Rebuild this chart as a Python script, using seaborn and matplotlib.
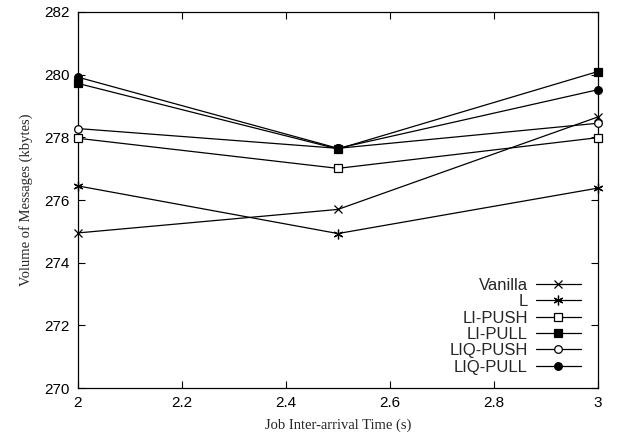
"""Volume of messages vs job inter-arrival time, gnuplot-style line chart."""

import matplotlib

matplotlib.use("Agg")
import matplotlib.pyplot as plt
import pandas as pd
import seaborn as sns

INTER_ARRIVAL = [2.0, 2.5, 3.0]
VANILLA = [274.95, 275.70, 278.65]
L = [276.45, 274.93, 276.38]
LI_PUSH = [277.97, 277.01, 277.99]
LI_PULL = [279.72, 277.63, 280.10]
LIQ_PUSH = [278.28, 277.65, 278.45]
LIQ_PULL = [279.92, 277.65, 279.52]

SERIES = {
    "Vanilla": VANILLA,
    "L": L,
    "LI-PUSH": LI_PUSH,
    "LI-PULL": LI_PULL,
    "LIQ-PUSH": LIQ_PUSH,
    "LIQ-PULL": LIQ_PULL,
}
# marker, face colour, size
MARKERS = {
    "Vanilla": ("x", "black", 6),
    "L": ((6, 2, 0), "black", 7),
    "LI-PUSH": ("s", "white", 5.5),
    "LI-PULL": ("s", "black", 5.5),
    "LIQ-PUSH": ("o", "white", 5.5),
    "LIQ-PULL": ("o", "black", 5.5),
}


def main() -> None:
    sns.set_theme(style="ticks")
    plt.rcParams["font.family"] = ["Liberation Sans", "DejaVu Sans"]
    plt.rcParams["xtick.direction"] = "in"
    plt.rcParams["ytick.direction"] = "in"

    rows = []
    for name, values in SERIES.items():
        for x, y in zip(INTER_ARRIVAL, values):
            rows.append({"series": name, "time": x, "volume": y})
    df = pd.DataFrame(rows)

    fig = plt.figure(figsize=(6.34, 4.44), dpi=100)
    ax = fig.add_axes([0.123, 0.126, 0.820, 0.847])

    for name in SERIES:
        marker, face, size = MARKERS[name]
        sns.lineplot(
            data=df[df["series"] == name],
            x="time",
            y="volume",
            color="black",
            linewidth=0.9,
            marker=marker,
            markersize=size,
            markerfacecolor=face,
            markeredgecolor="black",
            markeredgewidth=0.9,
            label=name,
            ax=ax,
            clip_on=False,
            zorder=3,
        )

    ax.set_xlim(2, 3)
    ax.set_ylim(270, 282)
    ax.set_xticks([2, 2.2, 2.4, 2.6, 2.8, 3])
    ax.set_xticklabels(["2", "2.2", "2.4", "2.6", "2.8", "3"])
    ax.set_yticks(range(270, 283, 2))
    ax.tick_params(axis="both", which="both", top=True, right=True, length=5,
                   width=0.8, labelsize=11, pad=6, colors="black")
    for spine in ax.spines.values():
        spine.set_linewidth(0.9)
        spine.set_color("black")

    serif = ["Liberation Serif", "DejaVu Serif"]
    ax.set_xlabel("Job Inter-arrival Time (s)", family=serif, fontsize=10.5, labelpad=6)
    ax.set_ylabel("Volume of Messages (kbytes)", family=serif, fontsize=10.5, labelpad=8)

    ax.legend(
        loc="lower right",
        bbox_to_anchor=(0.99, 0.005),
        frameon=False,
        markerfirst=False,
        fontsize=12,
        handlelength=2.7,
        handletextpad=0.5,
        labelspacing=0.08,
        borderaxespad=0.3,
    )

    fig.savefig("out.png", dpi=100)
    plt.close(fig)


if __name__ == "__main__":
    main()
